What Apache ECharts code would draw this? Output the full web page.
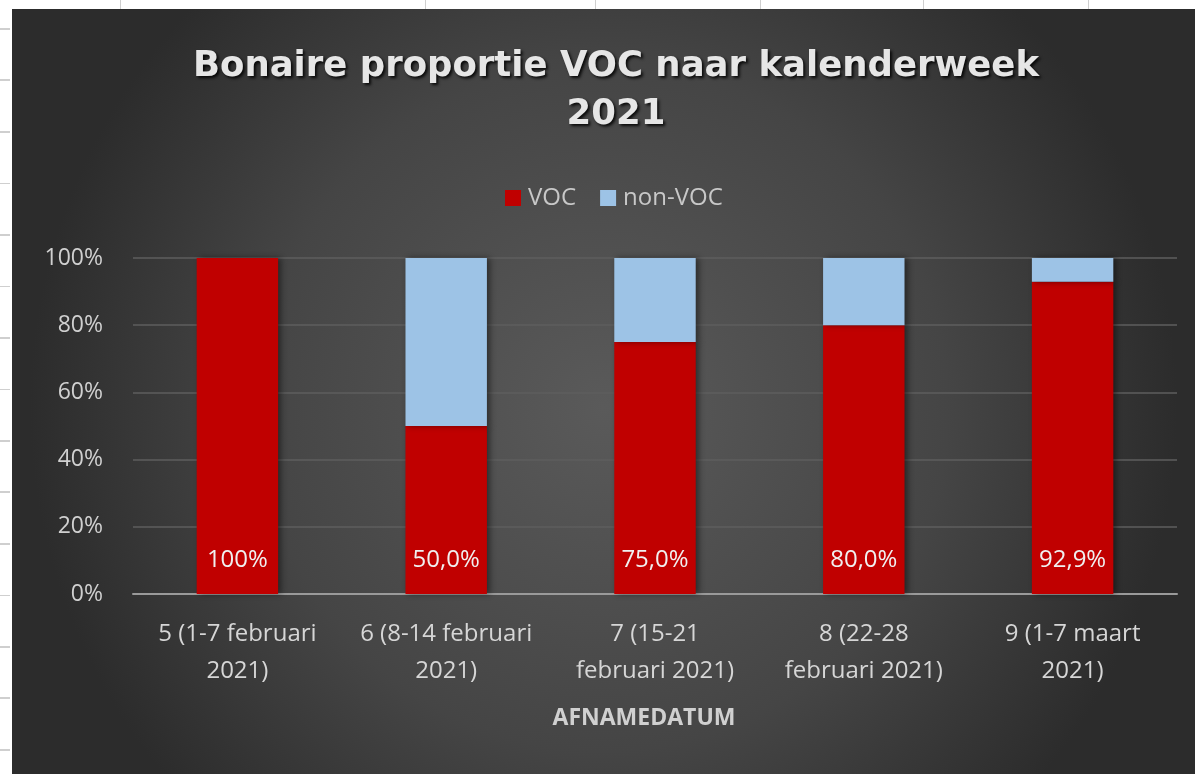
<!DOCTYPE html>
<html>
<head>
<meta charset="utf-8">
<script src="https://cdn.jsdelivr.net/npm/echarts@6/dist/echarts.min.js"></script>
<style>
  html, body {
    margin: 0;
    padding: 0;
    background: #ffffff;
    overflow: hidden;
  }
  /* spreadsheet edge round the pasted chart */
  .sheet-left {
    position: absolute;
    left: 0;
    top: 0;
    width: 10px;
    height: 774px;
    background: repeating-linear-gradient(to bottom, transparent 0px, transparent 28px, #cfcfcf 28px, #cfcfcf 30px, transparent 30px, transparent 51.5px);
  }
  .sheet-line {
    position: absolute;
    top: 0;
    width: 1px;
    height: 9px;
    background: #cfcfcf;
  }
  #chart {
    position: absolute;
    left: 12px;
    top: 9px;
    width: 1183px;
    height: 765px;
  }
</style>
</head>
<body>
<div class="sheet-left"></div>
<div class="sheet-line" style="left:120px"></div>
<div class="sheet-line" style="left:425px"></div>
<div class="sheet-line" style="left:595px"></div>
<div class="sheet-line" style="left:760px"></div>
<div class="sheet-line" style="left:923px"></div>
<div class="sheet-line" style="left:1088px"></div>
<div id="chart"></div>
<script>
  // data (percent)
  const weeks = [
    '5 (1-7 februari\n2021)',
    '6 (8-14 februari\n2021)',
    '7 (15-21\nfebruari 2021)',
    '8 (22-28\nfebruari 2021)',
    '9 (1-7 maart\n2021)'
  ]
  const voc = [100, 50.0, 75.0, 80.0, 92.9]
  const nonVoc = [0, 50.0, 25.0, 20.0, 7.1]
  const yTicks = [0, 20, 40, 60, 80, 100]

  const font = '"Open Sans", Lato, sans-serif'

  let chart = echarts.init(document.getElementById('chart'))
  chart.setOption({
    backgroundColor: {
      type: 'radial',
      x: 0.5, y: 0.52, r: 0.75,
      colorStops: [
        {offset: 0, color: '#5a5a5a'},
        {offset: 0.6, color: '#454545'},
        {offset: 1, color: '#2c2c2c'}
      ]
    },
    title: {
      text: 'Bonaire proportie VOC naar kalenderweek\n2021',
      left: 599,
      top: 29,
      textAlign: 'center',
      textStyle: {
        fontFamily: '"DejaVu Sans", sans-serif',
        fontWeight: 'bold',
        fontSize: 35.5,
        lineHeight: 48,
        color: '#e6e6e6',
        textShadowColor: 'rgba(0,0,0,0.85)',
        textShadowBlur: 3,
        textShadowOffsetX: 2,
        textShadowOffsetY: 2
      }
    },
    legend: {
      data: ['VOC', 'non-VOC'],
      left: 488,
      top: 172,
      itemWidth: 16,
      itemHeight: 16,
      itemGap: 24,
      icon: 'rect',
      textStyle: {
        fontFamily: font,
        fontSize: 24,
        color: '#c8c8c8',
        padding: [0, 0, 0, 2]
      }
    },
    grid: {
      left: 121,
      right: 18,
      top: 249,
      bottom: 180
    },
    xAxis: {
      type: 'category',
      data: weeks,
      name: 'AFNAMEDATUM',
      nameLocation: 'middle',
      nameGap: 113,
      nameTextStyle: {
        fontFamily: font,
        fontWeight: 'bold',
        fontSize: 23,
        color: '#d0d0d0',
        padding: [0, 22, 0, 0]
      },
      axisLine: {lineStyle: {color: '#9a9a9a', width: 2}},
      axisTick: {show: false},
      axisLabel: {
        margin: 22,
        fontFamily: font,
        fontSize: 24,
        lineHeight: 37,
        color: '#d6d6d6',
        interval: 0
      }
    },
    yAxis: {
      type: 'value',
      min: 0,
      max: 100,
      interval: 20,
      axisLine: {show: false},
      axisTick: {show: false},
      splitLine: {lineStyle: {color: '#5e5e5e', width: 1.5}},
      axisLabel: {
        margin: 30,
        fontFamily: font,
        fontSize: 23,
        color: '#d0d0d0',
        formatter: v => yTicks.includes(v) ? v + '%' : ''
      }
    },
    series: [
      {
        name: 'VOC',
        type: 'bar',
        stack: 'total',
        data: voc,
        barWidth: '39%',
        itemStyle: {
          color: '#c00000',
          shadowColor: 'rgba(0,0,0,0.45)',
          shadowBlur: 6,
          shadowOffsetX: 3
        },
        label: {
          show: true,
          position: 'insideBottom',
          distance: 22,
          fontFamily: font,
          fontSize: 24,
          color: '#f0f0f0',
          formatter: p => p.value === 100 ? '100%' : p.value.toFixed(1).replace('.', ',') + '%'
        }
      },
      {
        name: 'non-VOC',
        type: 'bar',
        stack: 'total',
        data: nonVoc,
        barWidth: '39%',
        itemStyle: {
          color: '#9dc3e6',
          shadowColor: 'rgba(0,0,0,0.45)',
          shadowBlur: 6,
          shadowOffsetX: 3
        }
      }
    ]
  })
</script>
</body>
</html>
